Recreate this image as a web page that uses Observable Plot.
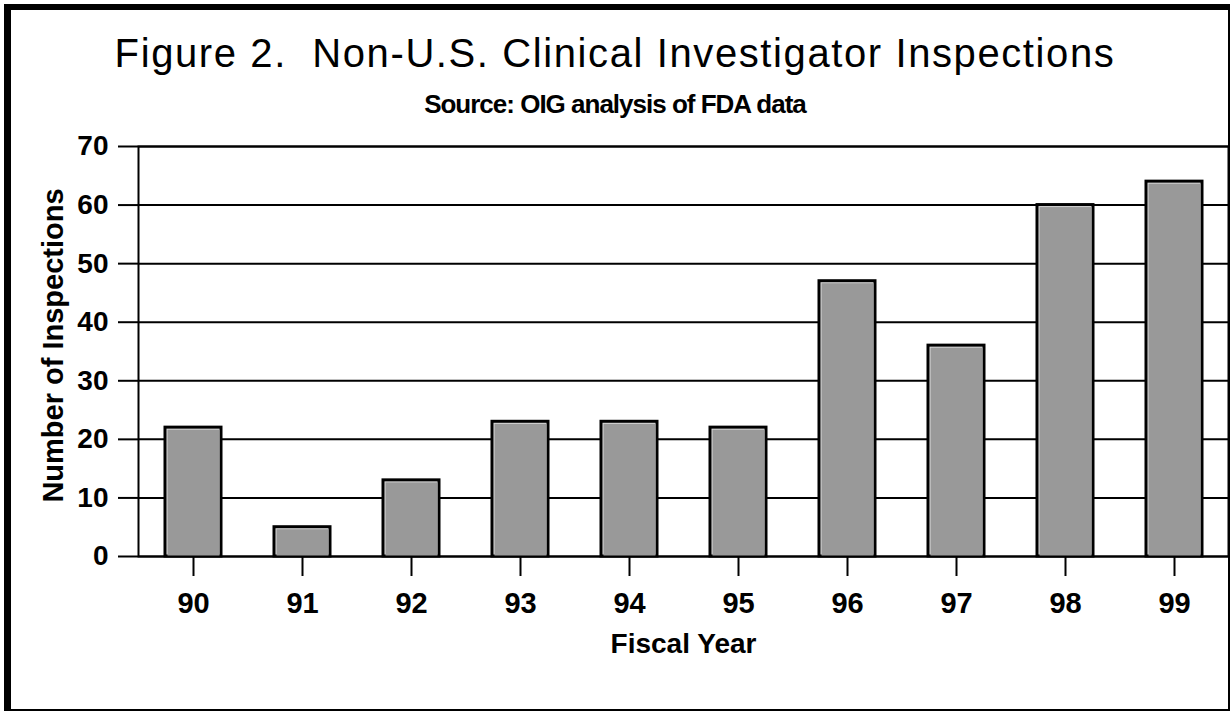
<!DOCTYPE html>
<html><head><meta charset="utf-8">
<script src="https://cdn.jsdelivr.net/npm/d3@7"></script>
<script src="https://cdn.jsdelivr.net/npm/@observablehq/plot@0.6"></script>
<style>
html,body{margin:0;padding:0;background:#fff;}
#wrap{position:relative;width:1230px;height:711px;overflow:hidden;background:#fff;}
#border{position:absolute;left:4px;top:4px;right:0;bottom:0;box-sizing:border-box;border-left:7px solid #000;border-top:6px solid #000;border-right:2px solid #000;border-bottom:2px solid #000;pointer-events:none;z-index:2;}
#title{position:absolute;left:0;width:1230px;top:33px;text-align:center;font:40px/1 "Liberation Sans",Arial,sans-serif;letter-spacing:1.6px;white-space:pre;color:#000;}
#subtitle{position:absolute;left:0;width:1230px;top:91px;text-align:center;font:bold 26px/1 "Liberation Sans",Arial,sans-serif;letter-spacing:-1px;white-space:pre;color:#000;}
#chart{position:absolute;left:0;top:128px;}
</style>
</head><body>
<div id="wrap">
  <div id="title">Figure 2.  Non-U.S. Clinical Investigator Inspections</div>
  <div id="subtitle">Source: OIG analysis of FDA data</div>
  <div id="chart"></div>
  <div id="border"></div>
</div>
<script>
const years = ["90","91","92","93","94","95","96","97","98","99"];
const inspections = [22, 5, 13, 23, 23, 22, 47, 36, 60, 64];
const yTicks = [0, 10, 20, 30, 40, 50, 60, 70];
const xTitle = "Fiscal Year";
const yTitle = "Number of Inspections";

const data = years.map((y, i) => ({year: y, value: inspections[i]}));

const chart = Plot.plot({
  width: 1230, height: 583,
  marginTop: 18, marginBottom: 155, marginLeft: 138, marginRight: 2,
  style: {background: "transparent", fontFamily: "'Liberation Sans', Arial, sans-serif", fontWeight: "bold", color: "black"},
  x: {domain: years, paddingInner: 0.49, paddingOuter: 0.245, label: null},
  y: {domain: [0, 70], label: null},
  marks: [
    Plot.gridY(yTicks, {stroke: "black", strokeOpacity: 1, strokeWidth: 2}),
    Plot.axisY(yTicks, {tickSize: 20, tickPadding: 10, fontSize: 28, strokeWidth: 2, label: null}),
    Plot.axisX({tickSize: 20, tickPadding: 16, fontSize: 29, strokeWidth: 2, label: null}),
    Plot.barY(data, {x: "year", y: "value", fill: "#dcdcdc", stroke: "black", strokeWidth: 3}),
    Plot.barY(data, {x: "year", y: "value", fill: "#999999", insetLeft: 2.5, insetTop: 2.5, insetRight: 1.5}),
    Plot.frame({stroke: "black", strokeWidth: 2}),
    Plot.text([xTitle], {text: d => d, frameAnchor: "bottom", dy: 88, lineAnchor: "middle", textAnchor: "middle", fontSize: 28, fontWeight: "bold"}),
    Plot.text([yTitle], {text: d => d, frameAnchor: "left", rotate: -90, dx: -85, dy: -6, lineAnchor: "middle", textAnchor: "middle", fontSize: 29, fontWeight: "bold"})
  ]
});
document.getElementById("chart").appendChild(chart);
</script>
</body></html>
